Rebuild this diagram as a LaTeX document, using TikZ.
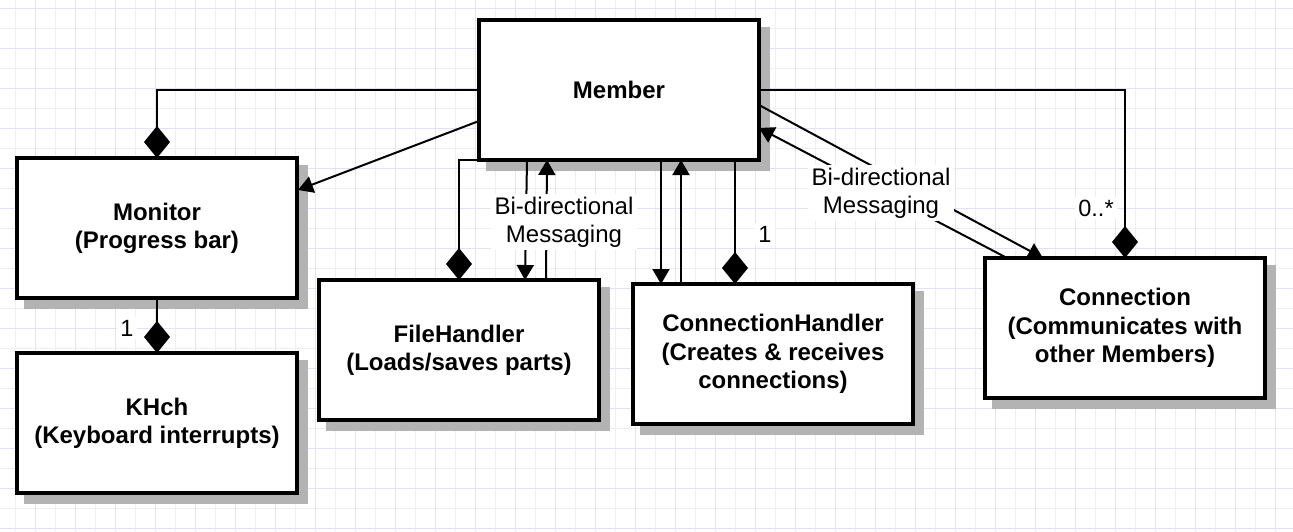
\documentclass[tikz,border=0pt]{standalone}
\usepackage{fontspec}
\setmainfont{Liberation Sans}
\usetikzlibrary{arrows.meta,calc}
\pgfdeclarelayer{bg}
\pgfdeclarelayer{conn}
\pgfsetlayers{bg,conn,main}
\definecolor{gridminor}{RGB}{238,238,251}
\definecolor{gridmajor}{RGB}{226,226,246}
\definecolor{shadowgray}{RGB}{179,179,179}
\tikzset{
  classbox/.style={draw=black, line width=4pt, fill=white, minimum width=280pt,
    minimum height=140pt, inner sep=0pt, outer sep=0pt, align=center,
    font=\fontsize{24}{28.3}\selectfont\bfseries},
  link/.style={draw=black, line width=2pt},
  arrowlink/.style={link, -{Triangle[length=15pt,width=17pt]}},
  complink/.style={link, -{Diamond[length=32pt,width=26pt]}},
  msglabel/.style={fill=white, inner xsep=4pt, inner ysep=3pt, align=center,
    font=\fontsize{24}{28}\selectfont},
  multlabel/.style={fill=white, inner sep=3pt, font=\fontsize{23.5}{27}\selectfont},
  gridline/.style={draw=gridminor, line width=1pt},
  gridmaj/.style={draw=gridmajor, line width=1pt},
}
\begin{document}
\begin{tikzpicture}[x=1pt,y=-1pt]
\useasboundingbox (0,0) rectangle (1293,531);

% boxes
\node[classbox] (member) at (619,90) {Member};
\node[classbox] (monitor) at (157,228) {Monitor\\(Progress bar)};
\node[classbox] (khch) at (157,423) {KHch\\(Keyboard interrupts)};
\node[classbox] (filehandler) at (459,350) {FileHandler\\(Loads/saves parts)};
\node[classbox] (ch) at (773,354) {ConnectionHandler\\(Creates \& receives\\connections)};
\node[classbox] (connection) at (1125,328) {Connection\\(Communicates with\\other Members)};

% background, grid and shadows
\begin{pgfonlayer}{bg}
  \fill[white] (0,0) rectangle (1293,531);
  \foreach \gx in {15,55,...,1295} \draw[gridline] (\gx,0) -- (\gx,531);
  \foreach \gy in {28.3,68.3,...,531} \draw[gridline] (0,\gy) -- (1293,\gy);
  \foreach \gx in {35,75,...,1295} \draw[gridmaj] (\gx,0) -- (\gx,531);
  \foreach \gy in {8.3,48.3,...,531} \draw[gridmaj] (0,\gy) -- (1293,\gy);
  \foreach \n in {member,monitor,khch,filehandler,ch,connection}
    \fill[shadowgray] ($(\n.north west)+(6.5,6.5)$) rectangle ($(\n.south east)+(10.5,10.5)$);
\end{pgfonlayer}

% connectors
\begin{pgfonlayer}{conn}
  \draw[complink] (member.west) -| (monitor.north);
  \draw[arrowlink] ($(member.north west)+(0,101)$) -- ($(monitor.north east)+(1,32)$);
  \draw[complink] (monitor.south) -- (khch.north);
  \draw[complink] (member.south west) -| (filehandler.north);
  \draw[arrowlink] ($(member.south west)+(48,0)$) -- ($(filehandler.north west)+(206,0)$);
  \draw[arrowlink] ($(filehandler.north west)+(227,0)$) -- ($(member.south west)+(68,0)$);
  \draw[arrowlink] ($(member.south west)+(182,0)$) -- ($(ch.north west)+(28,0)$);
  \draw[arrowlink] ($(ch.north west)+(48,0)$) -- ($(member.south west)+(202,0)$);
  \draw[complink] ($(member.south west)+(256,0)$) -- ($(ch.north west)+(102,0)$);
  \draw[complink] (member.east) -| (connection.north);
  \draw[arrowlink] ($(member.north east)+(0,85)$) -- ($(connection.north west)+(58,0)$);
  \draw[arrowlink] ($(connection.north west)+(22,0)$) -- ($(member.north east)+(0,108)$);
\end{pgfonlayer}

% labels
\node[msglabel] (lab1) at (564,222) {Bi-directional\\Messaging};
\node[msglabel] (lab2) at (881,193) {Bi-directional\\Messaging};
\node[multlabel] (m1) at (127,328) {1};
\node[multlabel] (m2) at (765,234) {1};
\node[multlabel] (m3) at (1096,208) {0..*};
\end{tikzpicture}
\end{document}
